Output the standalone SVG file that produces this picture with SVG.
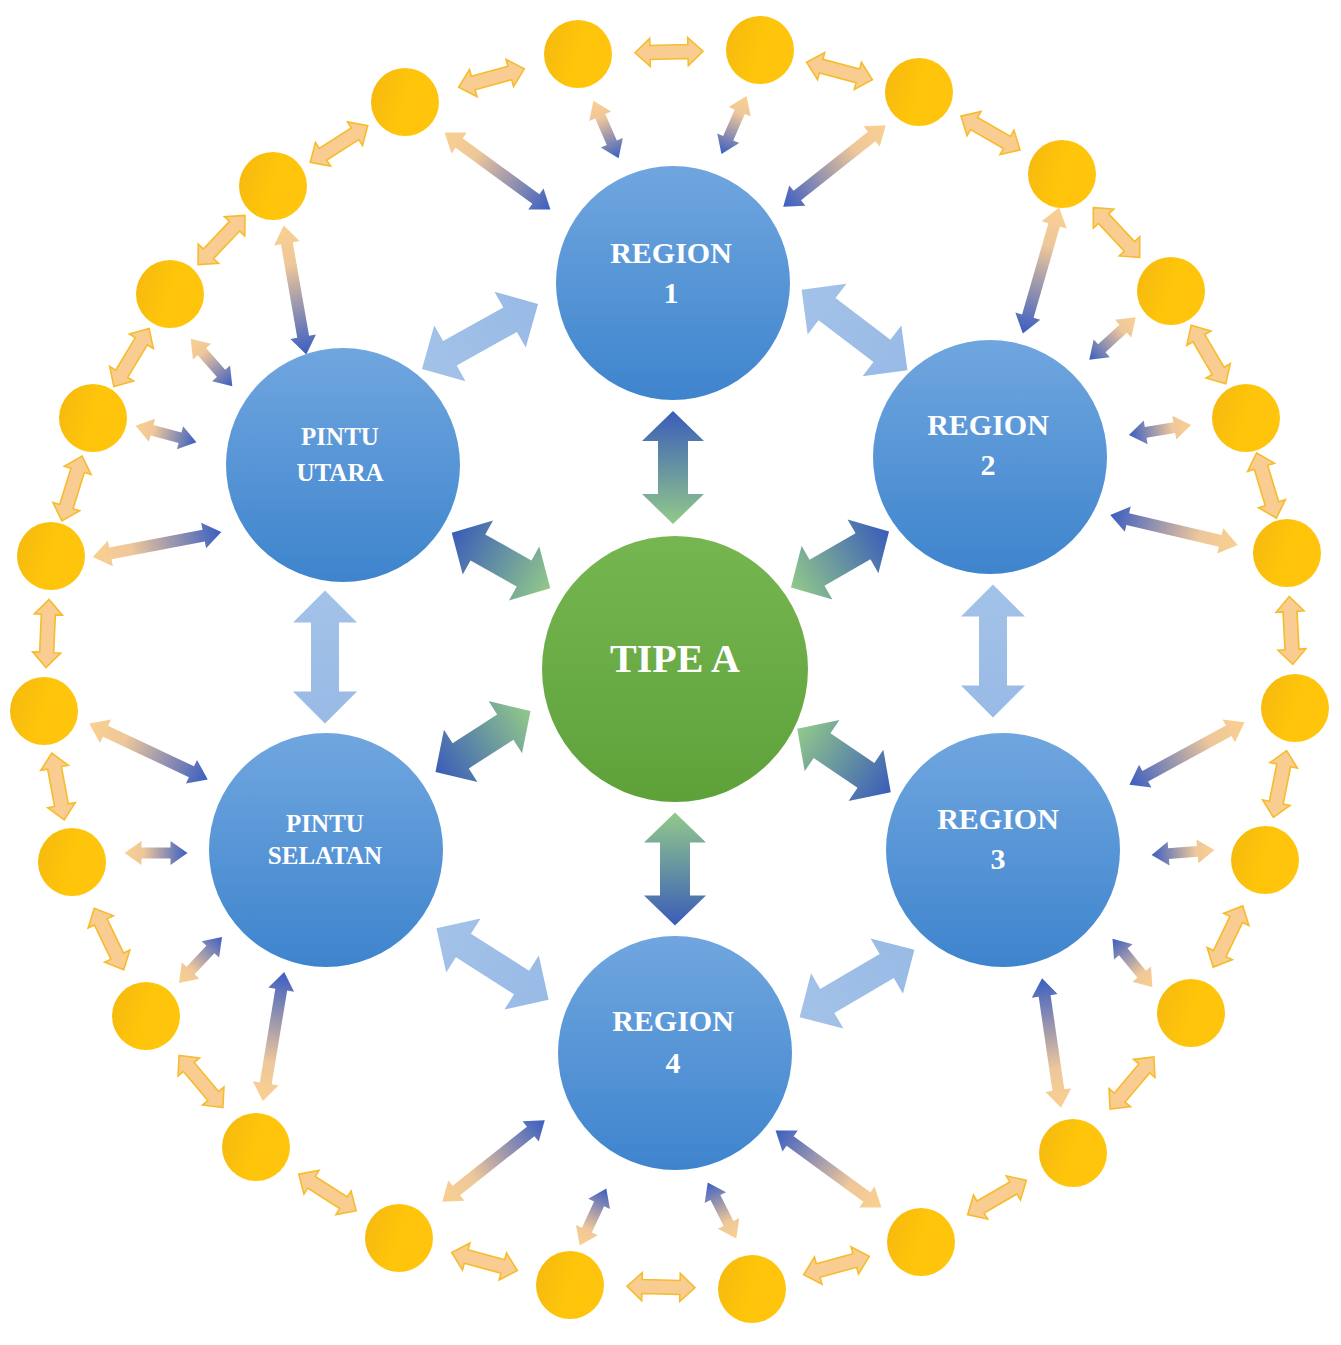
<svg xmlns="http://www.w3.org/2000/svg" xmlns:xlink="http://www.w3.org/1999/xlink" width="1341" height="1345" viewBox="0 0 1341 1345">
<style>
  .lbl { font-family: "Liberation Serif", "Times New Roman", serif; font-weight: bold; fill: #ffffff; text-anchor: middle; }
  .reg { font-size: 30px; }
  .pin { font-size: 25px; }
  .main { font-size: 40px; }
  .yel { fill: url(#gYel); }
  .blu { fill: url(#gBlue); }
  .ring { fill: #F9CD92; stroke: #F5BC2C; stroke-width: 1.6; stroke-linejoin: miter; }
  .sp { fill: url(#gSpoke); }
  .bb { fill: url(#gBB); }
  .gb { fill: url(#gGB); }
</style>
<defs>
  <linearGradient id="gYel" x1="0" y1="0" x2="1" y2="0.3">
    <stop offset="0" stop-color="#F4B80F"/>
    <stop offset="0.6" stop-color="#FFC50A"/>
    <stop offset="1" stop-color="#FFC40C"/>
  </linearGradient>
  <linearGradient id="gBlue" x1="0" y1="0" x2="0" y2="1">
    <stop offset="0" stop-color="#70A6DF"/>
    <stop offset="1" stop-color="#3E84CD"/>
  </linearGradient>
  <linearGradient id="gGreen" x1="0" y1="0" x2="0" y2="1">
    <stop offset="0" stop-color="#76B651"/>
    <stop offset="1" stop-color="#5EA139"/>
  </linearGradient>
  <linearGradient id="gSpoke" x1="0" y1="0" x2="1" y2="0">
    <stop offset="0" stop-color="#FAD08F"/>
    <stop offset="0.3" stop-color="#EEC79B"/>
    <stop offset="1" stop-color="#3A5EC2"/>
  </linearGradient>
  <linearGradient id="gBB" x1="0" y1="0" x2="1" y2="0">
    <stop offset="0" stop-color="#A3C2E8"/>
    <stop offset="1" stop-color="#98BAE5"/>
  </linearGradient>
  <linearGradient id="gGB" x1="0" y1="0" x2="1" y2="0">
    <stop offset="0" stop-color="#3A5CB9"/>
    <stop offset="1" stop-color="#92C98A"/>
  </linearGradient>
  <path id="aRing" class="ring" d="M-34,0 L-19,-14 L-19,-7 L19,-7 L19,-14 L34,0 L19,14 L19,7 L-19,7 L-19,14 Z"/>
  <path id="aShort" class="sp" d="M-31.5,0 L-14.5,-12 L-14.5,-5.5 L14.5,-5.5 L14.5,-12 L31.5,0 L14.5,12 L14.5,5.5 L-14.5,5.5 L-14.5,12 Z"/>
  <path id="aLong" class="sp" d="M-65.5,0 L-47.5,-13 L-47.5,-6 L47.5,-6 L47.5,-13 L65.5,0 L47.5,13 L47.5,6 L-47.5,6 L-47.5,13 Z"/>
  <path id="aBB" class="bb" d="M-66.5,0 L-34.5,-32 L-34.5,-14 L34.5,-14 L34.5,-32 L66.5,0 L34.5,32 L34.5,14 L-34.5,14 L-34.5,32 Z"/>
  <path id="aGB" class="gb" d="M-56.5,0 L-26.5,-31 L-26.5,-15 L26.5,-15 L26.5,-31 L56.5,0 L26.5,31 L26.5,15 L-26.5,15 L-26.5,31 Z"/>
</defs>

<g id="connectors">
  <!-- ring arrows between outer nodes -->
  <use xlink:href="#aRing" href="#aRing" transform="translate(669,52) rotate(-1.3)"/>
  <use xlink:href="#aRing" href="#aRing" transform="translate(839.5,71) rotate(14.8)"/>
  <use xlink:href="#aRing" href="#aRing" transform="translate(990.5,133) rotate(29.8)"/>
  <use xlink:href="#aRing" href="#aRing" transform="translate(1116.5,232.5) rotate(47)"/>
  <use xlink:href="#aRing" href="#aRing" transform="translate(1208.5,354.5) rotate(59.4)"/>
  <use xlink:href="#aRing" href="#aRing" transform="translate(1266.5,485.5) rotate(73.1)"/>
  <use xlink:href="#aRing" href="#aRing" transform="translate(1291,630.5) rotate(87)"/>
  <use xlink:href="#aRing" href="#aRing" transform="translate(1280,784) rotate(101.2)"/>
  <use xlink:href="#aRing" href="#aRing" transform="translate(1228,936.5) rotate(115.8)"/>
  <use xlink:href="#aRing" href="#aRing" transform="translate(1132,1083) rotate(130.1)"/>
  <use xlink:href="#aRing" href="#aRing" transform="translate(997,1197.5) rotate(149.7)"/>
  <use xlink:href="#aRing" href="#aRing" transform="translate(836.5,1265.5) rotate(164.5)"/>
  <use xlink:href="#aRing" href="#aRing" transform="translate(661,1287) rotate(-178.7)"/>
  <use xlink:href="#aRing" href="#aRing" transform="translate(484.5,1261.5) rotate(-164.6)"/>
  <use xlink:href="#aRing" href="#aRing" transform="translate(327.5,1192.5) rotate(-147.5)"/>
  <use xlink:href="#aRing" href="#aRing" transform="translate(201,1081.5) rotate(-130)"/>
  <use xlink:href="#aRing" href="#aRing" transform="translate(109,939) rotate(-115.7)"/>
  <use xlink:href="#aRing" href="#aRing" transform="translate(58,786.5) rotate(-100.5)"/>
  <use xlink:href="#aRing" href="#aRing" transform="translate(47.5,633.5) rotate(-87.4)"/>
  <use xlink:href="#aRing" href="#aRing" transform="translate(72,488.5) rotate(-72.7)"/>
  <use xlink:href="#aRing" href="#aRing" transform="translate(131.5,357.5) rotate(-58.8)"/>
  <use xlink:href="#aRing" href="#aRing" transform="translate(221.5,240) rotate(-46.4)"/>
  <use xlink:href="#aRing" href="#aRing" transform="translate(339,144) rotate(-32.5)"/>
  <use xlink:href="#aRing" href="#aRing" transform="translate(491.5,78) rotate(-15.5)"/>

  <!-- spokes: outer node to inner node (yellow end first) -->
  <use xlink:href="#aLong" href="#aLong" transform="translate(497.5,171) rotate(36.1)"/>
  <use xlink:href="#aLong" href="#aLong" transform="translate(834.5,166) rotate(141.5)"/>
  <use xlink:href="#aLong" href="#aLong" transform="translate(295,290) rotate(80.1)"/>
  <use xlink:href="#aLong" href="#aLong" transform="translate(157,544.5) rotate(-10.9)"/>
  <use xlink:href="#aLong" href="#aLong" transform="translate(148.5,751.5) rotate(25.2)"/>
  <use xlink:href="#aLong" href="#aLong" transform="translate(273.5,1036.5) rotate(-80.6)"/>
  <use xlink:href="#aLong" href="#aLong" transform="translate(493.5,1161) rotate(-38.5)"/>
  <use xlink:href="#aLong" href="#aLong" transform="translate(828.5,1169) rotate(-143.9)"/>
  <use xlink:href="#aLong" href="#aLong" transform="translate(1051.5,1043) rotate(-98.3)"/>
  <use xlink:href="#aLong" href="#aLong" transform="translate(1187,753.5) rotate(151.5)"/>
  <use xlink:href="#aLong" href="#aLong" transform="translate(1174,530) rotate(-166.8)"/>
  <use xlink:href="#aLong" href="#aLong" transform="translate(1041,270.5) rotate(106.1)"/>

  <use xlink:href="#aShort" href="#aShort" transform="translate(606,129.5) rotate(66.4)"/>
  <use xlink:href="#aShort" href="#aShort" transform="translate(734,125) rotate(113.4)"/>
  <use xlink:href="#aShort" href="#aShort" transform="translate(211.5,362.5) rotate(48.7)"/>
  <use xlink:href="#aShort" href="#aShort" transform="translate(166,434) rotate(15)"/>
  <use xlink:href="#aShort" href="#aShort" transform="translate(156,853) rotate(0)"/>
  <use xlink:href="#aShort" href="#aShort" transform="translate(200.5,960) rotate(-46.9)"/>
  <use xlink:href="#aShort" href="#aShort" transform="translate(593,1217) rotate(-65)"/>
  <use xlink:href="#aShort" href="#aShort" transform="translate(722,1210.5) rotate(-117)"/>
  <use xlink:href="#aShort" href="#aShort" transform="translate(1132.5,963) rotate(-129.4)"/>
  <use xlink:href="#aShort" href="#aShort" transform="translate(1183,852.5) rotate(175.5)"/>
  <use xlink:href="#aShort" href="#aShort" transform="translate(1160,430) rotate(170.8)"/>
  <use xlink:href="#aShort" href="#aShort" transform="translate(1112.5,338.5) rotate(137.5)"/>

  <!-- blue to blue -->
  <use xlink:href="#aBB" href="#aBB" transform="translate(480,336.5) rotate(-29.2)"/>
  <use xlink:href="#aBB" href="#aBB" transform="translate(854.5,330) rotate(37.3)"/>
  <use xlink:href="#aBB" href="#aBB" transform="translate(993,651) rotate(90)"/>
  <use xlink:href="#aBB" href="#aBB" transform="translate(325,657) rotate(90)"/>
  <use xlink:href="#aBB" href="#aBB" transform="translate(492.5,964) rotate(32.5)"/>
  <use xlink:href="#aBB" href="#aBB" transform="translate(857,983.5) rotate(-30.4)"/>

  <!-- blue to centre (blue end first) -->
  <use xlink:href="#aGB" href="#aGB" transform="translate(673,467.5) rotate(90)"/>
  <use xlink:href="#aGB" href="#aGB" transform="translate(501,560.5) rotate(29.3)"/>
  <use xlink:href="#aGB" href="#aGB" transform="translate(840,559.5) rotate(150.2)"/>
  <use xlink:href="#aGB" href="#aGB" transform="translate(483,741.5) rotate(-32.7)"/>
  <use xlink:href="#aGB" href="#aGB" transform="translate(844,760.5) rotate(-145.9)"/>
  <use xlink:href="#aGB" href="#aGB" transform="translate(675,869) rotate(-90)"/>
</g>

<g id="outer-nodes">
  <g id="o1"><circle class="yel" cx="578" cy="54" r="34"/></g>
  <g id="o2"><circle class="yel" cx="760" cy="50" r="34"/></g>
  <g id="o3"><circle class="yel" cx="919" cy="92" r="34"/></g>
  <g id="o4"><circle class="yel" cx="1062" cy="174" r="34"/></g>
  <g id="o5"><circle class="yel" cx="1171" cy="291" r="34"/></g>
  <g id="o6"><circle class="yel" cx="1246" cy="418" r="34"/></g>
  <g id="o7"><circle class="yel" cx="1287" cy="553" r="34"/></g>
  <g id="o8"><circle class="yel" cx="1295" cy="708" r="34"/></g>
  <g id="o9"><circle class="yel" cx="1265" cy="860" r="34"/></g>
  <g id="o10"><circle class="yel" cx="1191" cy="1013" r="34"/></g>
  <g id="o11"><circle class="yel" cx="1073" cy="1153" r="34"/></g>
  <g id="o12"><circle class="yel" cx="921" cy="1242" r="34"/></g>
  <g id="o13"><circle class="yel" cx="752" cy="1289" r="34"/></g>
  <g id="o14"><circle class="yel" cx="570" cy="1285" r="34"/></g>
  <g id="o15"><circle class="yel" cx="399" cy="1238" r="34"/></g>
  <g id="o16"><circle class="yel" cx="256" cy="1147" r="34"/></g>
  <g id="o17"><circle class="yel" cx="146" cy="1016" r="34"/></g>
  <g id="o18"><circle class="yel" cx="72" cy="862" r="34"/></g>
  <g id="o19"><circle class="yel" cx="44" cy="711" r="34"/></g>
  <g id="o20"><circle class="yel" cx="51" cy="556" r="34"/></g>
  <g id="o21"><circle class="yel" cx="93" cy="418" r="34"/></g>
  <g id="o22"><circle class="yel" cx="170" cy="294" r="34"/></g>
  <g id="o23"><circle class="yel" cx="273" cy="186" r="34"/></g>
  <g id="o24"><circle class="yel" cx="405" cy="102" r="34"/></g>
</g>

<g id="region1">
  <circle class="blu" cx="673" cy="283" r="117"/>
  <text class="lbl reg" x="671" y="263">REGION</text>
  <text class="lbl reg" x="671" y="303">1</text>
</g>
<g id="region2">
  <circle class="blu" cx="990" cy="457" r="117"/>
  <text class="lbl reg" x="988" y="435">REGION</text>
  <text class="lbl reg" x="988" y="475">2</text>
</g>
<g id="region3">
  <circle class="blu" cx="1003" cy="850" r="117"/>
  <text class="lbl reg" x="998" y="829">REGION</text>
  <text class="lbl reg" x="998" y="869">3</text>
</g>
<g id="region4">
  <circle class="blu" cx="675" cy="1053" r="117"/>
  <text class="lbl reg" x="673" y="1031">REGION</text>
  <text class="lbl reg" x="673" y="1073">4</text>
</g>
<g id="pintu-utara">
  <circle class="blu" cx="343" cy="465" r="117"/>
  <text class="lbl pin" x="340" y="445">PINTU</text>
  <text class="lbl pin" x="340" y="481">UTARA</text>
</g>
<g id="pintu-selatan">
  <circle class="blu" cx="326" cy="850" r="117"/>
  <text class="lbl pin" x="325" y="832">PINTU</text>
  <text class="lbl pin" x="325" y="864">SELATAN</text>
</g>
<g id="tipe-a">
  <circle cx="675" cy="669" r="133" fill="url(#gGreen)"/>
  <text class="lbl main" x="675" y="672">TIPE A</text>
</g>
</svg>
